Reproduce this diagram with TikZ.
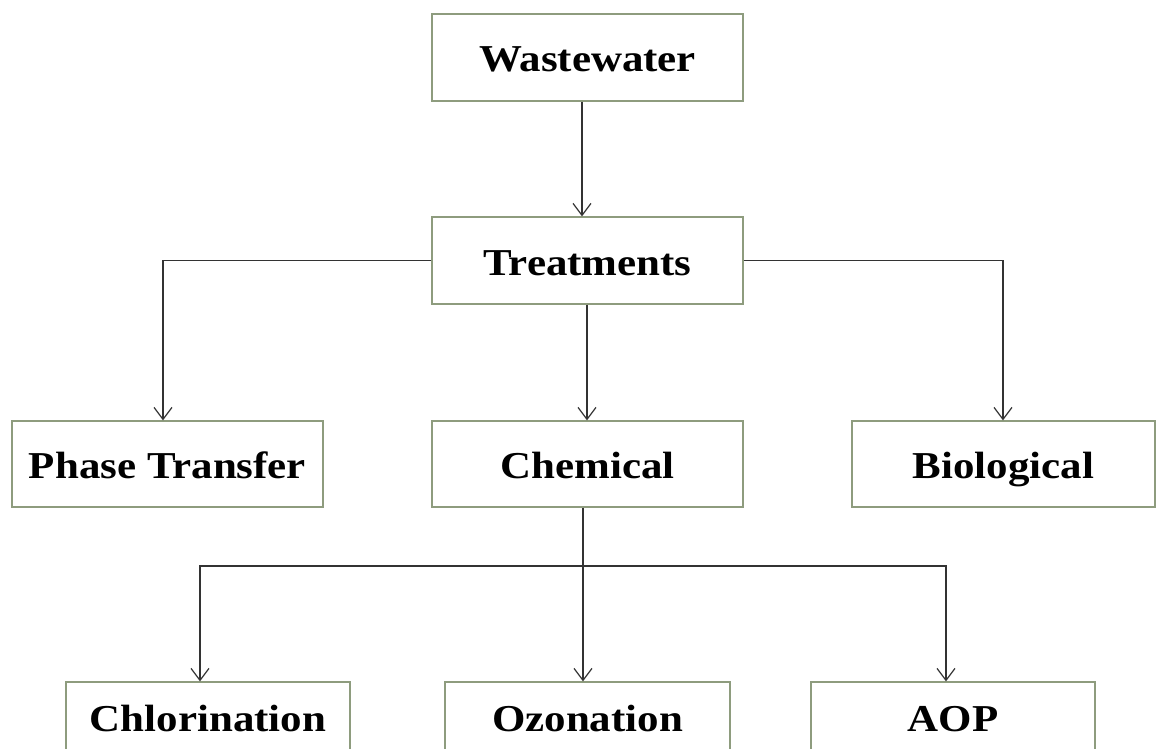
\documentclass[tikz,border=0pt]{standalone}
\usepackage{fontspec}
\setmainfont{Liberation Serif}[FakeStretch=1.13]
\usetikzlibrary{arrows.meta}
\definecolor{boxline}{HTML}{8E9C7E}
\definecolor{conn}{HTML}{333333}
\begin{document}
\begin{tikzpicture}[x=1pt,y=-1pt,
  lbl/.style={font=\fontsize{38}{40}\selectfont\bfseries,text height=31pt,text depth=2pt,inner sep=0pt},
  box/.style={lbl,draw=boxline,line width=1.3pt,fill=white},
  conn/.style={draw=conn,line width=1.3pt},
  arr/.style={conn,-{Straight Barb[length=12pt,width=18pt,line width=1.2pt]}}]
\useasboundingbox[fill=white] (0,0) rectangle (1157,749);
\node[box,minimum width=311pt,minimum height=87pt] (ww) at (587.5,57.5) {Wastewater};
\node[box,minimum width=311pt,minimum height=87pt] (tr) at (587.5,260.5) {Treatments};
\node[box,minimum width=311pt,minimum height=86pt] (pt) at (167.5,464) {Phase Transfer};
\node[box,minimum width=311pt,minimum height=86pt] (ch) at (587.5,464) {Chemical};
\node[box,minimum width=303pt,minimum height=86pt] (bi) at (1003.5,464) {Biological};
\node[box,minimum width=284pt,minimum height=90pt] (cl) at (208,727) {};
\node[lbl] (clt) at (208,717) {Chlorination};
\node[box,minimum width=285pt,minimum height=90pt] (oz) at (587.5,727) {};
\node[lbl] (ozt) at (587.5,717) {Ozonation};
\node[box,minimum width=284pt,minimum height=90pt] (ao) at (953,727) {};
\node[lbl] (aot) at (953,717) {AOP};
\coordinate (jn) at (583,566);
\draw[arr] (ww.south -| 582,0) -- (tr.north -| 582,0);
\draw[arr] (tr.west) -| (pt.north -| 163,0);
\draw[arr] (tr.east) -| (bi.north -| 1003,0);
\draw[arr] (tr.south -| 587,0) -- (ch.north -| 587,0);
\draw[conn] (ch.south -| jn) -- (jn);
\draw[arr] (jn) -| (cl.north -| 200,0);
\draw[arr] (jn) -| (ao.north -| 946,0);
\draw[arr] (jn) -- (oz.north -| jn);
\end{tikzpicture}
\end{document}
